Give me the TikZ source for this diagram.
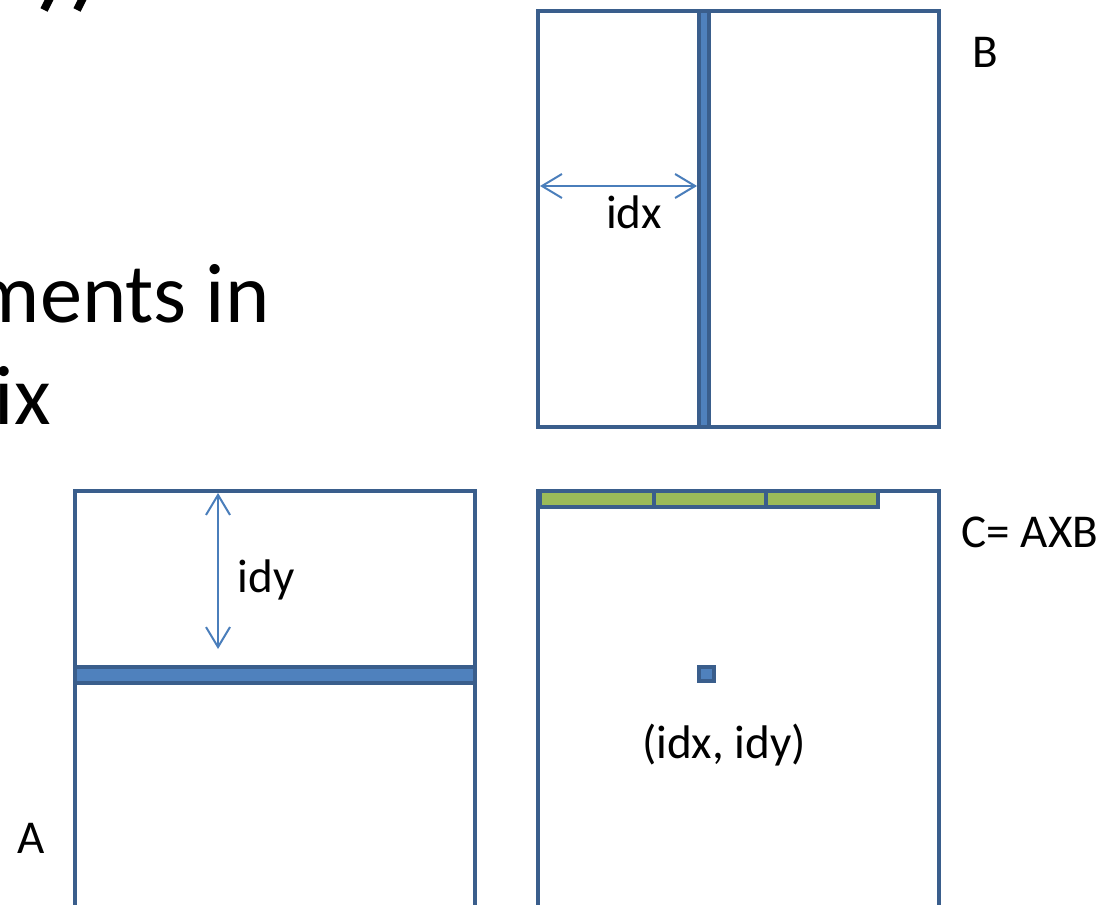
\documentclass[tikz,border=0pt]{standalone}
\usepackage{fontspec}
\setmainfont{Carlito}
\usepackage{xcolor}
\usetikzlibrary{positioning,calc,arrows.meta}

\definecolor{matline}{HTML}{3A5E8C}
\definecolor{matfill}{HTML}{4F81BD}
\definecolor{rowgreen}{HTML}{9BBB59}
\definecolor{arrowblue}{HTML}{4A7EBB}

\tikzset{
	matrixbox/.style={draw=matline, line width=0.11cm},
	stripbox/.style={draw=matline, fill=matfill, line width=0.11cm},
	tilebox/.style={draw=matline, fill=rowgreen, line width=0.11cm},
	offset/.style={draw=arrowblue, line width=0.05cm,
		{Straight Barb[length=0.5cm,width=0.6cm]}-{Straight Barb[length=0.5cm,width=0.6cm]}},
	lbl/.style={font=\fontsize{33.5}{38}\selectfont, inner sep=0pt},
}

\begin{document}
\begin{tikzpicture}[x=0.025cm, y=-0.025cm]
		\clip (0,0) rectangle (1118,905);
		\fill[white] (0,0) rectangle (1118,905);

		% corners of the three matrices
		\coordinate (Btl) at (538,11);
		\coordinate (Bbr) at (939,427);
		\coordinate (Atl) at (75,491);
		\coordinate (Abr) at (475,915);
		\coordinate (Ctl) at (538,491);
		\coordinate (Cbr) at (939,915);

		% slide text running off the left edge
		\draw[line width=0.2cm] (50,-2) -- (44,10);
		\draw[line width=0.2cm] (83,-2) -- (77,10);
		\node[anchor=base east, inner sep=0pt, font=\fontsize{60}{70}\selectfont] (lineone) at (270,323) {ments in};
		\node[anchor=base east, inner sep=0pt, font=\fontsize{60}{70}\selectfont] (linetwo) at (51,425) {ix};

		% matrix B with one column
		\draw[matrixbox] (Btl) rectangle (Bbr);
		\draw[stripbox] (699,11) rectangle (709,427);
		\coordinate (colL) at (540,186);
		\coordinate (colR) at (697,186);
		\draw[offset] (colL) -- (colR);
		\node[lbl] (idxlbl) at (634,212) {idx};
		\node[lbl] (Blbl) at (985,52) {B};

		% matrix A with one row
		\draw[matrixbox] (Atl) rectangle (Abr);
		\draw[stripbox] (75,667) rectangle (475,683);
		\coordinate (rowT) at (218,493);
		\coordinate (rowB) at (218,649);
		\draw[offset] (rowT) -- (rowB);
		\node[lbl] (idylbl) at (266,580) {idy};
		\node[lbl] (Albl) at (31,838) {A};

		% matrix C, tiles along the top and the element
		\draw[matrixbox] (Ctl) rectangle (Cbr);
		\foreach \xa/\xb in {540/654, 654/766, 766/878}
			\draw[tilebox] (\xa,491) rectangle (\xb,507);
		\draw[stripbox] (699,667) rectangle (714,681);
		\node[lbl] (elemlbl) at (724,745) {(idx, idy)};
		\node[lbl] (Clbl) at (1030,532) {C= AXB};
	\end{tikzpicture}
\end{document}
